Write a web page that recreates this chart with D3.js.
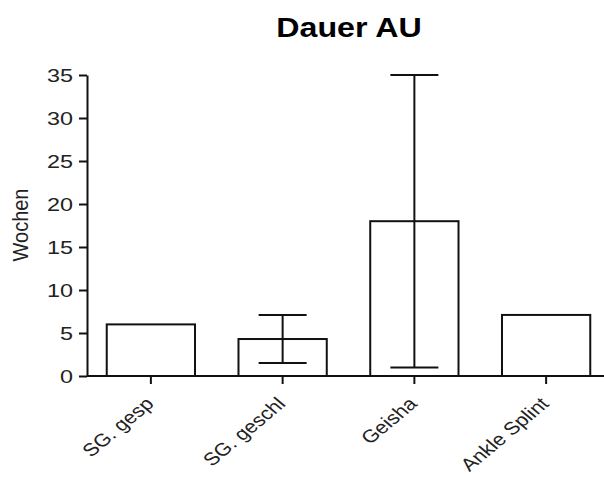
<!DOCTYPE html>
<html>
<head>
<meta charset="utf-8">
<script src="https://cdn.jsdelivr.net/npm/d3@7"></script>
<style>
  body { margin: 0; background: #fff; }
  svg { display: block; font-family: "Liberation Sans", Arial, sans-serif; }
</style>
</head>
<body>
<svg id="chart" width="604" height="477"></svg>
<script>
const categories = ["SG. gesp", "SG. geschl", "Geisha", "Ankle Splint"];
const means = [6, 4.3, 18, 7.1];
const errLow = [null, 1.5, 1, null];
const errHigh = [null, 7.1, 35, null];
const yTicks = [0, 5, 10, 15, 20, 25, 30, 35];

const width = 604;
const height = 477;
const margin = { top: 75, left: 87, bottom: 101, right: 0 };
const svg = d3.select("#chart");

const x = d3
  .scaleBand()
  .domain(categories)
  .range([85, 612])
  .paddingInner(0.33)
  .paddingOuter(0.165);

const y = d3
  .scaleLinear()
  .domain([0, 35])
  .range([height - margin.bottom, margin.top]);

const data = categories.map((c, i) => ({ cat: c, mean: means[i], lo: errLow[i], hi: errHigh[i] }));

// title
svg
  .append("text")
  .attr("transform", "translate(349,37) scale(1.15,1)")
  .attr("text-anchor", "middle")
  .attr("font-size", 28)
  .attr("font-weight", "bold")
  .text("Dauer AU");

// y axis title
svg
  .append("text")
  .attr("transform", "translate(28,225) scale(1.1,1) rotate(-90)")
  .attr("text-anchor", "middle")
  .attr("font-size", 20)
  .attr("fill", "#222")
  .text("Wochen");

// bars
svg
  .selectAll("rect.bar")
  .data(data)
  .enter()
  .append("rect")
  .attr("class", "bar")
  .attr("x", (d) => x(d.cat))
  .attr("width", x.bandwidth())
  .attr("y", (d) => y(d.mean))
  .attr("height", (d) => y(0) - y(d.mean))
  .attr("fill", "#fff")
  .attr("stroke", "#111")
  .attr("stroke-width", 2);

// error bars
const errs = data.filter((d) => d.lo != null);
const capW = 24;
const eg = svg.append("g").attr("stroke", "#111").attr("stroke-width", 2);
eg.selectAll("line.v")
  .data(errs)
  .enter()
  .append("line")
  .attr("x1", (d) => x(d.cat) + x.bandwidth() / 2)
  .attr("x2", (d) => x(d.cat) + x.bandwidth() / 2)
  .attr("y1", (d) => y(d.lo))
  .attr("y2", (d) => y(d.hi));
["lo", "hi"].forEach((k) => {
  eg.selectAll("line.cap-" + k)
    .data(errs)
    .enter()
    .append("line")
    .attr("x1", (d) => x(d.cat) + x.bandwidth() / 2 - capW)
    .attr("x2", (d) => x(d.cat) + x.bandwidth() / 2 + capW)
    .attr("y1", (d) => y(d[k]))
    .attr("y2", (d) => y(d[k]));
});

// y axis
const yAxis = svg
  .append("g")
  .attr("transform", `translate(${margin.left},0)`)
  .call(d3.axisLeft(y).tickValues(yTicks).tickSize(8).tickSizeOuter(0).tickPadding(4));
yAxis.select(".domain").attr("stroke", "#111").attr("stroke-width", 2);
yAxis.selectAll(".tick line").attr("stroke", "#111").attr("stroke-width", 2);
yAxis
  .selectAll(".tick text")
  .attr("x", null)
  .attr("dy", null)
  .attr("font-size", 18)
  .attr("font-family", "Liberation Sans, Arial, sans-serif")
  .attr("fill", "#222")
  .attr("text-anchor", "end")
  .attr("transform", "translate(-14,6) scale(1.3,1)");

// x axis
const xAxis = svg
  .append("g")
  .attr("transform", `translate(0,${y(0)})`)
  .call(d3.axisBottom(x).tickSize(8).tickSizeOuter(0));
xAxis.select(".domain").remove();
xAxis
  .append("line")
  .attr("x1", margin.left)
  .attr("x2", width - margin.right)
  .attr("stroke", "#111")
  .attr("stroke-width", 2);
xAxis.selectAll(".tick line").attr("stroke", "#111").attr("stroke-width", 2);
xAxis
  .selectAll(".tick text")
  .attr("y", null)
  .attr("dy", null)
  .attr("font-size", 18)
  .attr("font-family", "Liberation Sans, Arial, sans-serif")
  .attr("fill", "#222")
  .attr("text-anchor", "end")
  .attr("transform", "translate(4,29) scale(1.2,1) rotate(-45)");
</script>
</body>
</html>
